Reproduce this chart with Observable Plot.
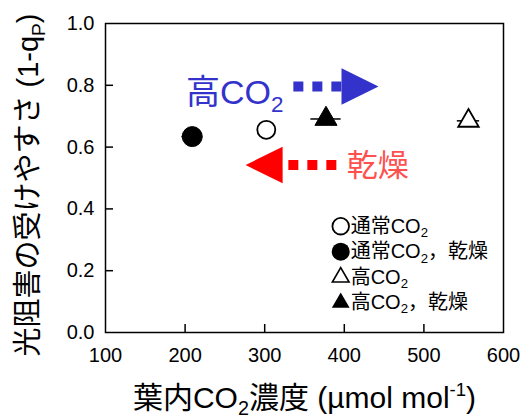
<!DOCTYPE html>
<html>
<head>
<meta charset="utf-8">
<script src="https://cdn.jsdelivr.net/npm/d3@7"></script>
<script src="https://cdn.jsdelivr.net/npm/@observablehq/plot@0.6"></script>
<style>
  html, body { margin: 0; padding: 0; background: #fff; }
  #chart svg { display: block; }
</style>
</head>
<body>
<div id="chart"></div>
<script>
// ---------- data ----------
const groups = ["通常CO_{2}", "通常CO_{2}，乾燥", "高CO_{2}", "高CO_{2}，乾燥"];
const groupShape = ["circle", "circle", "triangle", "triangle"];
const groupFilled = [false, true, false, true];
const ciCO2 = [302, 209, 556, 377];                 // 葉内CO2濃度 (µmol mol-1)
const ciCO2Err = [8, 13, 14, 19];                   // horizontal error
const susceptibility = [0.656, 0.634, 0.685, 0.691]; // 1 - qP

const xTicks = [100, 200, 300, 400, 500, 600];
const yTicks = [0, 0.2, 0.4, 0.6, 0.8, 1.0];

const xTitle = "葉内CO_{2}濃度 (µmol mol^{-1})";
const yTitle = "光阻害の受けやすさ (1-q_{P})";

// annotation arrows (data coordinates)
const arrowLabels = ["高CO_{2}", "乾燥"];
const arrowY = [0.796, 0.542];
const arrowFrom = [336, 390];
const arrowTip = [443, 276];
const arrowLabelX = [201, 403];
const arrowLabelY = [0.774, 0.539];

// ---------- layout / styles ----------
const W = 526, H = 416;
const M = {top: 23, right: 23, bottom: 84, left: 105};
const innerW = W - M.left - M.right, innerH = H - M.top - M.bottom;
const FONT = '"Liberation Sans", Arial, "Noto Sans CJK JP", sans-serif';
const arrowStyle = [
  {head: "#3333cc", label: "#3333cc", dir: 1},
  {head: "#ff0000", label: "#ff5050", dir: -1}
];
const headLen = 37, headHalf = 18.3;
const rightHead = {draw(ctx) { ctx.moveTo(0, 0); ctx.lineTo(-headLen, -headHalf); ctx.lineTo(-headLen, headHalf); ctx.closePath(); }};
const leftHead  = {draw(ctx) { ctx.moveTo(0, 0); ctx.lineTo(headLen, -headHalf); ctx.lineTo(headLen, headHalf); ctx.closePath(); }};

const idx = d3.range(groups.length);
const sel = (shape, filled) => idx.filter(i => groupShape[i] === shape && groupFilled[i] === filled);

// legend placement (data coordinates derived from row index)
const legSymX = 395.5, legTextX = 408, legY0 = 0.344, legStep = 0.0825;
const legY = i => legY0 - i * legStep;

const marks = [
  Plot.frame({stroke: "black", strokeWidth: 1.5}),
  Plot.tickX(xTicks.slice(1, -1), {x: d => d, insetTop: innerH - 8, strokeWidth: 1.5}),
  Plot.tickY(yTicks.slice(1, -1), {y: d => d, insetRight: innerW - 8, strokeWidth: 1.5}),
  Plot.axisX(xTicks, {tickSize: 0, tickPadding: 15, fontSize: 20, label: null, tickFormat: d => String(d)}),
  Plot.axisY(yTicks, {tickSize: 0, tickPadding: 11, fontSize: 20, label: null, tickFormat: d3.format(".1f")}),
  Plot.text([xTitle], {frameAnchor: "bottom", textAnchor: "middle", lineAnchor: "middle", dy: 66, fontSize: 30}),
  Plot.text([yTitle], {frameAnchor: "left", textAnchor: "middle", lineAnchor: "middle", rotate: -90, dx: -76.3, dy: 7, fontSize: 29}),

  // error bars
  Plot.ruleY(idx, {y: i => susceptibility[i], x1: i => ciCO2[i] - ciCO2Err[i], x2: i => ciCO2[i] + ciCO2Err[i], strokeWidth: 1.5}),
  // data points
  Plot.dot(sel("circle", false), {x: i => ciCO2[i], y: i => susceptibility[i], symbol: "circle", r: 9, fill: "white", stroke: "black", strokeWidth: 1.8}),
  Plot.dot(sel("circle", true), {x: i => ciCO2[i], y: i => susceptibility[i], symbol: "circle", r: 10, fill: "black", stroke: "black", strokeWidth: 1}),
  Plot.dot(sel("triangle", false), {x: i => ciCO2[i], y: i => susceptibility[i], symbol: "triangle", r: 7.6, fill: "white", stroke: "black", strokeWidth: 1.8}),
  Plot.dot(sel("triangle", true), {x: i => ciCO2[i], y: i => susceptibility[i], symbol: "triangle", r: 8.2, fill: "black", stroke: "black", strokeWidth: 1}),

  // legend
  Plot.dot(sel("circle", false), {x: () => legSymX, y: i => legY(i), symbol: "circle", r: 8.3, fill: "white", stroke: "black", strokeWidth: 1.8}),
  Plot.dot(sel("circle", true), {x: () => legSymX, y: i => legY(i), symbol: "circle", r: 9, fill: "black"}),
  Plot.dot(sel("triangle", false), {x: () => legSymX, y: i => legY(i), symbol: "triangle", r: 6.2, fill: "white", stroke: "black", strokeWidth: 1.6}),
  Plot.dot(sel("triangle", true), {x: () => legSymX, y: i => legY(i), symbol: "triangle", r: 6.6, fill: "black"}),
  Plot.text(idx, {x: () => legTextX, y: i => legY(i), text: i => groups[i], textAnchor: "start", fontSize: 20, fill: "black"})
];

// annotation arrows
arrowLabels.forEach((lab, k) => {
  const s = arrowStyle[k];
  marks.push(
    Plot.link([k], {x1: i => arrowFrom[i], y1: i => arrowY[i], x2: i => arrowTip[i] - s.dir * 20, y2: i => arrowY[i],
                    stroke: s.head, strokeWidth: 10, strokeDasharray: "10,9"}),
    Plot.dot([k], {x: i => arrowTip[i], y: i => arrowY[i], symbol: s.dir > 0 ? rightHead : leftHead, fill: s.head, stroke: "none"}),
    Plot.text([k], {x: i => arrowLabelX[i], y: i => arrowLabelY[i], text: i => arrowLabels[i], textAnchor: "start",
                    fontSize: k === 0 ? 34 : 31, fill: s.label})
  );
});

const chart = Plot.plot({
  width: W, height: H,
  marginTop: M.top, marginRight: M.right, marginBottom: M.bottom, marginLeft: M.left,
  x: {domain: [100, 600]},
  y: {domain: [0, 1]},
  style: {fontFamily: FONT, fontSize: "20px", background: "white", color: "black", overflow: "visible"},
  marks
});
document.getElementById("chart").appendChild(chart);

// turn _{..} and ^{..} markup into real sub/superscript tspans
function richify(root) {
  const NS = "http://www.w3.org/2000/svg";
  root.querySelectorAll("text").forEach(t => {
    const s = t.textContent;
    if (!/[_^]\{/.test(s) || t.querySelector("tspan")) return;
    const fs = parseFloat(getComputedStyle(t).fontSize) || 16;
    while (t.firstChild) t.removeChild(t.firstChild);
    const re = /([_^])\{([^}]*)\}/g;
    let last = 0, cur = 0, m;
    const add = (txt, off, size) => {
      if (!txt) return;
      const sp = document.createElementNS(NS, "tspan");
      sp.textContent = txt;
      const dy = off - cur;
      if (Math.abs(dy) > 1e-6) sp.setAttribute("dy", dy.toFixed(2));
      if (size) sp.setAttribute("font-size", size.toFixed(2));
      cur = off;
      t.appendChild(sp);
    };
    while ((m = re.exec(s))) {
      add(s.slice(last, m.index), 0, null);
      if (m[1] === "_") add(m[2], 0.22 * fs, 0.66 * fs);
      else add(m[2], -0.42 * fs, 0.62 * fs);
      last = re.lastIndex;
    }
    add(s.slice(last), 0, null);
  });
}
richify(chart);
</script>
</body>
</html>
